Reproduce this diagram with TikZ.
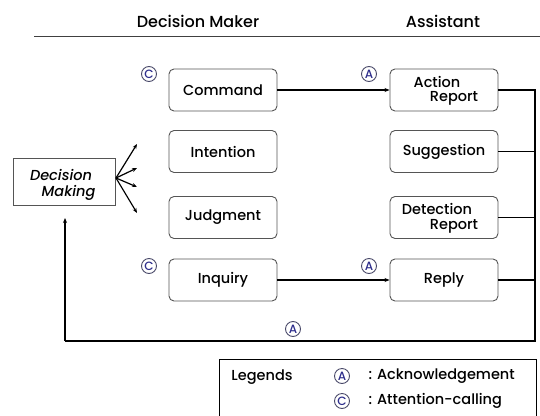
\documentclass[tikz,border=0pt]{standalone}
\usepackage{fontspec}
\setmainfont{Poppins Medium}[ItalicFont={Poppins Medium Italic}]
\usetikzlibrary{arrows.meta}
\definecolor{boxline}{HTML}{555555}
\definecolor{markblue}{HTML}{2E2E8C}
\definecolor{markline}{HTML}{4A4A6A}
\begin{document}
\begin{tikzpicture}[x=1pt,y=-1pt,
  stepbox/.style={draw=boxline,line width=0.9pt,rounded corners=5pt,minimum width=108pt,minimum height=42pt,inner sep=0pt,font=\fontsize{14.5}{16}\selectfont},
  txt/.style={font=\fontsize{14.5}{16}\selectfont},
  circmark/.style={draw=markline,circle,line width=0.9pt,inner sep=0pt,minimum size=15pt,text=markblue,font=\fontsize{12}{12}\selectfont},
  flow/.style={line width=1.4pt,-{Stealth[length=5pt,width=4pt]}},
  link/.style={line width=1.6pt},
  head/.style={font=\fontsize{16}{18}\selectfont},
  legtxt/.style={font=\fontsize{14.5}{16}\selectfont},
]
\clip (0,0) rectangle (540,415);
\fill[white] (0,0) rectangle (540,415);

% column headings
\node[head] (hdm) at (198,21) {Decision Maker};
\node[head] (has) at (443,21) {Assistant};
\coordinate (hl) at (34,36);
\coordinate (hr) at (540,36);
\draw[line width=0.8pt,black!75] (hl) -- (hr);

% decision maker boxes
\node[stepbox] (cmd) at (223,90) {Command};
\node[stepbox] (int) at (223,151.5) {Intention};
\node[stepbox] (jud) at (223,217.5) {Judgment};
\node[stepbox] (inq) at (223,280) {Inquiry};

% assistant boxes
\node[stepbox] (act) at (444,90) {};
\node[txt] (actA) at (437,82) {Action};
\node[txt] (actB) at (454,98.5) {Report};
\node[stepbox] (sug) at (444,151.5) {Suggestion};
\node[stepbox] (det) at (444,217.5) {};
\node[txt] (detA) at (437,209) {Detection};
\node[txt] (detB) at (454,226) {Report};
\node[stepbox] (rep) at (444,280) {Reply};

% decision making box
\node[draw=boxline,line width=0.9pt,minimum width=102pt,minimum height=47pt,inner sep=0pt] (dm) at (64,181.5) {};
\node[txt,font=\fontsize{14.5}{16}\selectfont\itshape] (dmA) at (61,175) {Decision};
\node[txt,font=\fontsize{14.5}{16}\selectfont\itshape] (dmB) at (68.5,193) {Making};

% fan of outputs from decision making
\coordinate (dmo) at (116,178);
\coordinate (t1) at (137,144);
\coordinate (t2) at (137,168);
\coordinate (t3) at (137,187);
\coordinate (t4) at (137,213);
\foreach \t in {t1,t2,t3,t4}
  \draw[line width=1.2pt,-{Stealth[length=5pt,width=4pt]}] (dmo) -- (\t);

% requests to the assistant
\draw[flow] (cmd) -- (act);
\draw[flow] (inq) -- (rep);

% assistant responses collected on the right
\coordinate (rt) at (535,90);
\coordinate (rb) at (535,341);
\coordinate (lb) at (65,341);
\coordinate (dmin) at (65,218);
\draw[link] (act.east) -- (rt) -- (rb) -- (lb);
\draw[link] (sug.east) -- (sug.east -| rt);
\draw[link] (det.east) -- (det.east -| rt);
\draw[link] (rep.east) -- (rep.east -| rt);
\draw[line width=1.4pt,-{Stealth[length=5pt,width=4pt]}] (lb) -- (dmin);

% attention-calling and acknowledgement marks
\node[circmark] (c1) at (149,74) {C};
\node[circmark] (a1) at (369,74) {A};
\node[circmark] (c2) at (149,266) {C};
\node[circmark] (a2) at (369,266) {A};
\node[circmark] (a3) at (293,329) {A};

% legend
\coordinate (lg1) at (219,359.5);
\coordinate (lg2) at (536,430);
\draw[line width=1pt] (lg1) rectangle (lg2);
\node[legtxt] (lgt) at (262,377) {Legends};
\node[circmark] (lga) at (342,376) {A};
\node[legtxt,anchor=west] (lgat) at (365,376) {: Acknowledgement};
\node[circmark] (lgc) at (342,401) {C};
\node[legtxt,anchor=west] (lgct) at (365,401) {: Attention-calling};
\end{tikzpicture}
\end{document}
